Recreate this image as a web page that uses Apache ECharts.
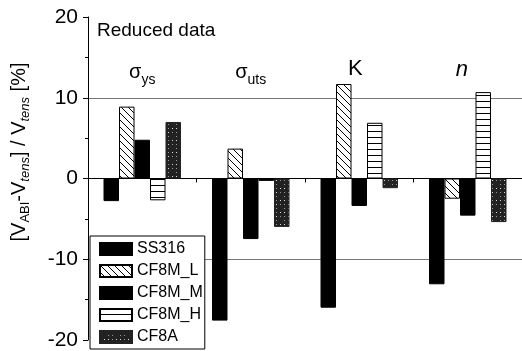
<!DOCTYPE html>
<html><head><meta charset="utf-8">
<script src="https://cdn.jsdelivr.net/npm/echarts@6/dist/echarts.min.js"></script>
<style>html,body{margin:0;padding:0;background:#fff}#c{width:522px;height:351px}</style>
</head><body><div id="c"></div>
<script>
// ---- data ----
var categories = ['sys', 'suts', 'K', 'n'];
var categoryLabels = ['σ{s|ys}', 'σ{s|uts}', '{k|K}', '{n|n}'];
var seriesNames = ['SS316', 'CF8M_L', 'CF8M_M', 'CF8M_H', 'CF8A'];
var SS316  = [-2.8, -17.6, -16.0, -13.1];
var CF8M_L = [8.9, 3.7, 11.7, -2.5];
var CF8M_M = [4.8, -7.5, -3.4, -4.6];
var CF8M_H = [-2.7, -0.3, 6.9, 10.7];
var CF8A   = [7.0, -6.0, -1.2, -5.4];
var yTicks = [-20, -10, 0, 10, 20];

var FONT = 'Arial, "Liberation Sans", Helvetica, sans-serif';

function mkCanvas(w, h, draw) {
  var c = document.createElement('canvas'); c.width = w; c.height = h;
  var g = c.getContext('2d'); draw(g, w, h); return c;
}
var hatch = mkCanvas(7, 7, function (g, w, h) {
  g.fillStyle = '#fff'; g.fillRect(0, 0, w, h);
  g.strokeStyle = '#000'; g.lineWidth = 1;
  g.beginPath();
  g.moveTo(-1, -1); g.lineTo(w + 1, h + 1);
  g.moveTo(-1 - w, -1); g.lineTo(1, h + 1);
  g.moveTo(w - 1, -1); g.lineTo(2 * w + 1, h + 1);
  g.stroke();
});
var hlines = mkCanvas(4, 6, function (g, w, h) {
  g.fillStyle = '#fff'; g.fillRect(0, 0, w, h);
  g.fillStyle = '#000'; g.fillRect(0, h - 1, w, 1);
});
var speckle = mkCanvas(12, 12, function (g, w, h) {
  g.fillStyle = '#222'; g.fillRect(0, 0, w, h);
  var s = 7;
  for (var i = 0; i < 16; i++) {
    s = (s * 1103515245 + 12345) % 2147483648;
    var x = s % w; s = (s * 1103515245 + 12345) % 2147483648;
    var y = s % h;
    g.fillStyle = i % 3 ? '#999' : '#ddd';
    g.fillRect(x, y, 1, 1);
  }
});

var styles = [
  { color: '#000', borderColor: '#000', borderWidth: 1 },
  { color: { image: hatch, repeat: 'repeat' }, borderColor: '#000', borderWidth: 1 },
  { color: '#000', borderColor: '#000', borderWidth: 1 },
  { color: { image: hlines, repeat: 'repeat' }, borderColor: '#000', borderWidth: 1 },
  { color: { image: speckle, repeat: 'repeat' }, borderColor: '#222', borderWidth: 1 }
];
var values = [SS316, CF8M_L, CF8M_M, CF8M_H, CF8A];

var chart = echarts.init(document.getElementById('c'), null, { renderer: 'canvas' });
chart.setOption({
  animation: false,
  backgroundColor: '#fff',
  textStyle: { fontFamily: FONT },
  grid: { left: 88, top: 17, width: 440, height: 323 },
  legend: {
    orient: 'vertical', left: 90, top: 236, height: 110,
    data: seriesNames,
    icon: 'rect', itemWidth: 32, itemHeight: 12, itemGap: 4,
    padding: [4, 2, 3, 9],
    borderColor: '#000', borderWidth: 1, backgroundColor: '#fff',
    textStyle: { fontSize: 16, color: '#000', fontFamily: FONT, lineHeight: 18 }
  },
  xAxis: [{
    type: 'category', data: categories, position: 'bottom',
    axisLine: { onZero: true, lineStyle: { color: '#000', width: 1 } },
    axisTick: { show: true, length: 4, lineStyle: { color: '#000' } },
    axisLabel: { show: false },
    splitLine: { show: false }
  }, {
    type: 'category', data: categories, position: 'top',
    axisLine: { show: false }, axisTick: { show: false },
    axisLabel: {
      inside: true, margin: 40, color: '#000',
      formatter: function (v, i) { return categoryLabels[i]; },
      fontSize: 20, fontFamily: FONT, lineHeight: 30,
      rich: {
        s: { fontSize: 14, fontFamily: FONT, verticalAlign: 'bottom', lineHeight: 14, color: '#000' },
        k: { fontSize: 22, fontFamily: FONT, color: '#000', lineHeight: 30, padding: [0, 8, 6, 0] },
        n: { fontSize: 22, fontFamily: FONT, fontStyle: 'italic', color: '#000', lineHeight: 30, padding: [0, 12, 4, 0] }
      }
    }
  }],
  yAxis: {
    type: 'value', min: -20, max: 20, interval: 10,
    axisLine: { show: true, lineStyle: { color: '#000', width: 1 } },
    axisTick: { show: true, length: 5, lineStyle: { color: '#000' } },
    minorTick: { show: true, splitNumber: 2, length: 3, lineStyle: { color: '#000' } },
    axisLabel: {
      fontSize: 21, color: '#000', margin: 10, fontFamily: FONT,
      formatter: function (v) { return yTicks.indexOf(v) >= 0 ? String(v) : ''; }
    },
    splitLine: { show: true, lineStyle: { color: ['rgba(0,0,0,0)', '#777', '#000', '#777', 'rgba(0,0,0,0)'], width: 1 } }
  },
  graphic: [{
    type: 'text', left: 97, top: 21,
    style: { text: 'Reduced data', font: '19px ' + FONT, fill: '#000' }
  }, {
    type: 'text', x: 19, y: 152, rotation: Math.PI / 2,
    style: {
      text: '[V{a|ABI}-V{t|tens}] / V{t|tens} [%]',
      font: '20px ' + FONT, fill: '#000', align: 'center', verticalAlign: 'middle',
      lineHeight: 26,
      rich: {
        a: { font: '13px ' + FONT, verticalAlign: 'bottom', lineHeight: 12, fill: '#000' },
        t: { font: 'italic 13px ' + FONT, verticalAlign: 'bottom', lineHeight: 12, fill: '#000' }
      }
    }
  }],
  series: seriesNames.map(function (name, i) {
    return {
      name: name, type: 'bar', data: values[i],
      xAxisIndex: 0, barWidth: 15.5, barGap: '0%',
      itemStyle: styles[i]
    };
  })
});
</script></body></html>
